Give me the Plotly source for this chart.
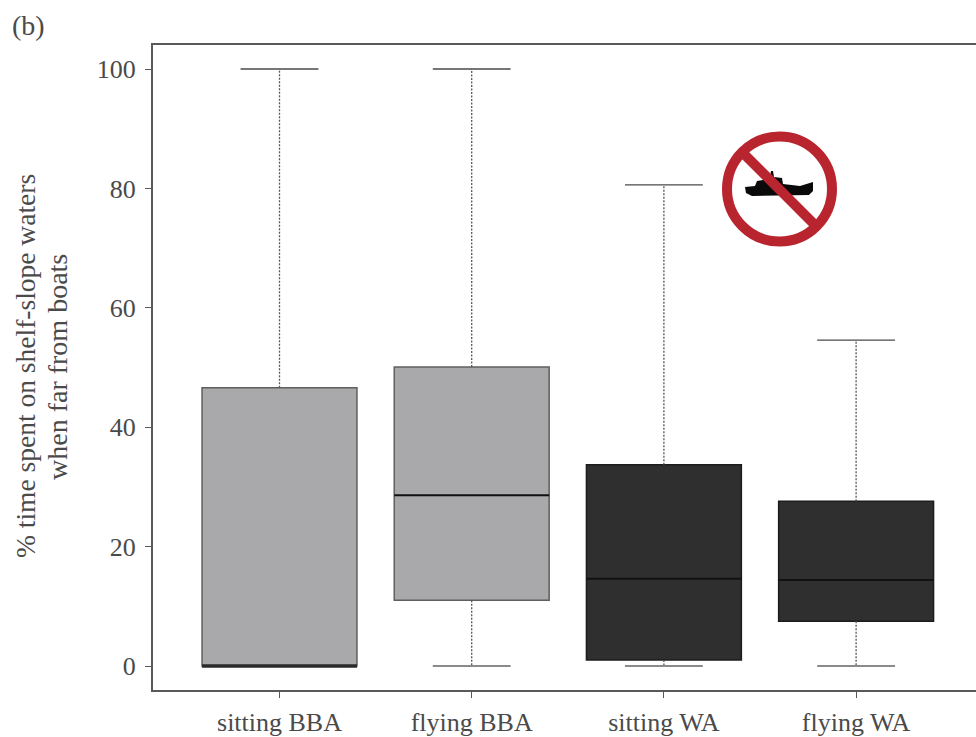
import plotly.graph_objects as go

categories = ["sitting BBA", "flying BBA", "sitting WA", "flying WA"]
q1 = [0, 11, 1, 7.5]
median = [0, 28.6, 14.6, 14.4]
q3 = [46.6, 50.1, 33.7, 27.6]
whisker_low = [0, 0, 0, 0]
whisker_high = [100, 100, 80.6, 54.6]
box_colors = ["#a9a9ab", "#a9a9ab", "#2f2f2f", "#2f2f2f"]
box_edges = ["#5f5f5f", "#5f5f5f", "#1c1c1c", "#1c1c1c"]
y_ticks = [0, 20, 40, 60, 80, 100]

W, H = 976, 737
L, T, R, B = 153, 45, 976, 690
BOX_W, CAP_W = 0.806, 0.405
pos = list(range(len(categories)))
TXT = "#4a4a4a"
FONT = "Liberation Serif"


def seg(xa, ya, xb, yb):
    return [xa, xb, None], [ya, yb, None]


fig = go.Figure()
fig.add_trace(go.Bar(x=pos, y=[b - a for a, b in zip(q1, q3)], base=q1, width=BOX_W,
                     marker=dict(color=box_colors, line=dict(color=box_edges, width=1.5)),
                     showlegend=False, hoverinfo="skip"))

wx, wy, hx, hy, lx, ly, mx, my, zx, zy = [], [], [], [], [], [], [], [], [], []
for i in pos:
    for a, b, c, d in [(i, q3[i], i, whisker_high[i]), (i, q1[i], i, whisker_low[i])]:
        sx, sy = seg(a, b, c, d)
        wx += sx
        wy += sy
    sx, sy = seg(i - CAP_W / 2, whisker_high[i], i + CAP_W / 2, whisker_high[i])
    hx += sx
    hy += sy
    if q1[i] > whisker_low[i]:
        sx, sy = seg(i - CAP_W / 2, whisker_low[i], i + CAP_W / 2, whisker_low[i])
        lx += sx
        ly += sy
    sx, sy = seg(i - BOX_W / 2, median[i], i + BOX_W / 2, median[i])
    if median[i] == q1[i]:
        zx += sx
        zy += sy
    else:
        mx += sx
        my += sy

line_traces = [
    (wx, wy, dict(color="#555555", width=1.3, dash="2px,1.5px")),
    (hx, hy, dict(color="#4a4a4a", width=1.3)),
    (lx, ly, dict(color="#8a8a8a", width=2.2)),
    (mx, my, dict(color="#111111", width=2)),
    (zx, zy, dict(color="#2a2a2a", width=3.5)),
]
for xs, ys, ln in line_traces:
    fig.add_trace(go.Scatter(x=xs, y=ys, mode="lines", line=ln, showlegend=False,
                             hoverinfo="skip", connectgaps=False))


def px(x):
    return (x - L) / (R - L)


def py(y):
    return (B - y) / (B - T)


def path(points):
    return "M " + " L ".join(f"{px(x):.5f},{py(y):.5f}" for x, y in points) + " Z"


RED = "#b9252f"
ship = [(745, 187), (755, 186), (757, 181), (763, 180), (764, 177), (770, 177), (771, 171),
        (773, 171), (774, 177), (782, 178), (783, 184), (800, 186), (813, 182),
        (813, 191), (809, 195), (752, 196), (746, 193)]
shapes = [
    dict(type="circle", xref="paper", yref="paper", x0=px(727), x1=px(832), y0=py(241.5), y1=py(136.5),
         line=dict(color=RED, width=10), fillcolor="white", layer="above"),
    dict(type="path", xref="paper", yref="paper", path=path(ship),
         fillcolor="#0a0a0a", line=dict(width=0), layer="above"),
    dict(type="line", xref="paper", yref="paper", x0=px(744), y0=py(154), x1=px(816), y1=py(226),
         line=dict(color=RED, width=10), layer="above"),
]

fig.update_layout(
    width=W, height=H,
    margin=dict(l=L, t=T, r=W - R, b=H - B, pad=0, autoexpand=False),
    plot_bgcolor="white", paper_bgcolor="white",
    font=dict(family=FONT, color=TXT),
    showlegend=False, shapes=shapes,
    xaxis=dict(range=[(L - 279.5) / 192.2, (R - 279.5) / 192.2], tickvals=pos, ticktext=categories,
               showgrid=False, zeroline=False, showline=True, mirror=True, automargin=False,
               linecolor="#595959", linewidth=2, ticks="outside", ticklen=6, tickwidth=1.3,
               tickcolor="#595959", ticklabelstandoff=2,
               tickfont=dict(size=26, family=FONT, color=TXT)),
    yaxis=dict(range=[(666 - B) / 5.97, (666 - T) / 5.97], tickvals=y_ticks,
               showgrid=False, zeroline=False, showline=True, mirror=False, automargin=False,
               linecolor="#595959", linewidth=2, ticks="outside", ticklen=6, tickwidth=1.3,
               tickcolor="#595959", ticklabelstandoff=4,
               tickfont=dict(size=26, family=FONT, color=TXT)),
    annotations=[
        dict(text="(b)", xref="paper", yref="paper", x=px(28.5), y=py(26), showarrow=False,
             xanchor="center", yanchor="middle",
             font=dict(size=28, family=FONT, color=TXT)),
        dict(text="% time spent on shelf-slope waters", xref="paper", yref="paper",
             x=px(26), y=py(366), showarrow=False, textangle=-90, xanchor="center", yanchor="middle",
             font=dict(size=27.5, family=FONT, color=TXT)),
        dict(text="when far from boats", xref="paper", yref="paper",
             x=px(57), y=py(367), showarrow=False, textangle=-90, xanchor="center", yanchor="middle",
             font=dict(size=28, family=FONT, color=TXT)),
    ],
)
fig.write_html("out.html", post_script="document.body.style.margin='0';",
               config=dict(displayModeBar=False))
